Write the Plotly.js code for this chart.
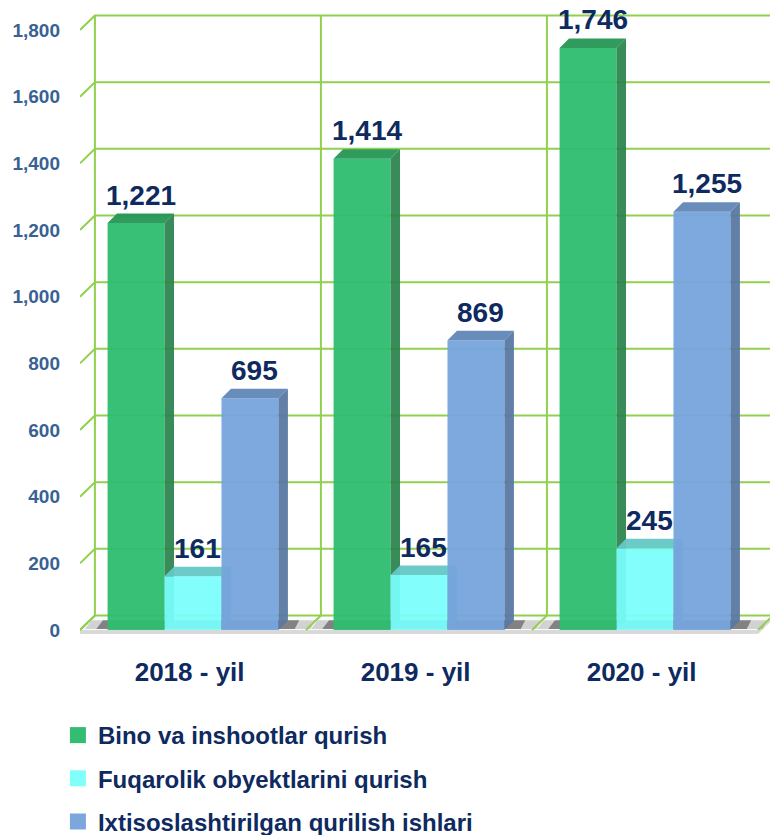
<!DOCTYPE html>
<html>
<head>
<meta charset="utf-8">
<script src="https://cdn.plot.ly/plotly-3.0.1.min.js"></script>
<style>html,body{margin:0;padding:0;background:#fff;}#chart{width:770px;height:835px;}</style>
</head>
<body>
<div id="chart"></div>
<script>
// ---- data ----
const categories = ['2018 - yil', '2019 - yil', '2020 - yil'];
const seriesNames = ['Bino va inshootlar qurish', 'Fuqarolik obyektlarini qurish', 'Ixtisoslashtirilgan qurilish ishlari'];
const bino = [1221, 1414, 1746];
const fuqarolik = [161, 165, 245];
const ixtisos = [695, 869, 1255];
const yTicks = [0, 200, 400, 600, 800, 1000, 1200, 1400, 1600, 1800];

// ---- style ----
const seriesValues = [bino, fuqarolik, ixtisos];
const faceColors = [
  {front: 'rgba(46,189,112,0.95)', side: 'rgba(40,130,76,0.92)', top: 'rgba(38,150,84,0.95)', legend: '#33bd73'},
  {front: 'rgba(120,255,252,0.93)', side: 'rgba(90,190,190,0.92)', top: 'rgba(100,200,198,0.95)', legend: '#80fffb'},
  {front: 'rgba(118,164,220,0.95)', side: 'rgba(88,120,162,0.95)', top: 'rgba(100,137,184,0.97)', legend: '#7ba7dc'}
];
const BW = 0.252, DX = 0.042, DY = 28.5;     // bar width, bar depth offsets
const WDX = 0.066, WDY = 43.5;                // wall depth offsets
const SLAB = 12;                              // floor thickness
const GRID = '#92d050';
const NAVY = '#0e2a5f';
const FONT = 'Liberation Sans, Arial, sans-serif';
const XL = -0.5, XR = categories.length - 0.5;

const traces = [];

// floor slab (thickness) and top surface
traces.push({type: 'scatter', mode: 'none',
  x: [XL, XR, XR + WDX, XR + WDX, XR, XL, XL], y: [0, 0, WDY, WDY - SLAB, -SLAB, -SLAB, 0],
  fill: 'toself', fillcolor: '#d9d9d9', showlegend: false, hoverinfo: 'skip'});
traces.push({type: 'scatter', mode: 'none',
  x: [XL, XR, XR + WDX, XL + WDX, XL], y: [0, 0, WDY, WDY, 0],
  fill: 'toself', fillcolor: '#fbfbfb', showlegend: false, hoverinfo: 'skip'});

// floor shadows under each group (two layers for a soft edge)
[[0.12, 0.20, 'rgba(0,0,0,0.16)'], [0.07, 0.06, 'rgba(20,20,20,0.42)']].forEach(([padL, padR, col]) => {
  const shx = [], shy = [];
  categories.forEach((c, i) => {
    const a = i - 1.5 * BW - padL, b = i + 1.5 * BW + DX + padR * 0.5;
    shx.push(a + 0.02, b, b + 0.02, a + 0.05, a + 0.02, null);
    shy.push(3, 3, WDY - 14, WDY - 14, 3, null);
  });
  traces.push({type: 'scatter', mode: 'none', x: shx, y: shy, fill: 'toself',
    fillcolor: col, showlegend: false, hoverinfo: 'skip'});
});

// back wall + floor grid
const gx = [], gy = [];
yTicks.forEach(t => {
  gx.push(XL, XL + WDX, 3.2, null);
  gy.push(t, t + WDY, t + WDY, null);
});
for (let k = 0; k <= categories.length; k++) {
  gx.push(k - 0.5, k - 0.5 + WDX, k - 0.5 + WDX, null);
  gy.push(0, WDY, yTicks[yTicks.length - 1] + WDY, null);
}
traces.push({type: 'scatter', mode: 'lines', x: gx, y: gy, line: {color: GRID, width: 2},
  showlegend: false, hoverinfo: 'skip'});

// bars (front, side, top faces)
const annotations = [];
seriesValues.forEach((vals, s) => {
  const F = {x: [], y: []}, S = {x: [], y: []}, T = {x: [], y: []};
  vals.forEach((v, i) => {
    const x0 = i - 1.5 * BW + s * BW, x1 = x0 + BW;
    F.x.push(x0, x1, x1, x0, x0, null); F.y.push(0, 0, v, v, 0, null);
    S.x.push(x1, x1 + DX, x1 + DX, x1, x1, null); S.y.push(0, DY, v + DY, v, 0, null);
    T.x.push(x0, x1, x1 + DX, x0 + DX, x0, null); T.y.push(v, v, v + DY, v + DY, v, null);
    annotations.push({x: (x0 + x1 + DX) / 2, y: v + DY, xref: 'x', yref: 'y',
      text: v.toLocaleString('en-US'), showarrow: false, yanchor: 'bottom', yshift: 1,
      font: {family: FONT, size: 28, color: NAVY, weight: 'bold'}});
  });
  [[F, 'front'], [S, 'side'], [T, 'top']].forEach(([p, k]) => {
    traces.push({type: 'scatter', mode: 'none', x: p.x, y: p.y, fill: 'toself',
      fillcolor: faceColors[s][k], showlegend: false, hoverinfo: 'skip'});
  });
});

// legend entries
seriesNames.forEach((n, s) => {
  traces.push({type: 'scatter', mode: 'markers', x: [null], y: [null], name: n,
    marker: {symbol: 'square', size: 16, color: faceColors[s].legend}, legendgroup: 'g' + s});
});

const layout = {
  width: 770, height: 835,
  margin: {l: 80, r: 0, t: 5, b: 195},
  paper_bgcolor: '#ffffff', plot_bgcolor: 'rgba(0,0,0,0)',
  showlegend: true,
  legend: {x: -0.032, xref: 'paper', y: 1 - 713 / 835, yref: 'container', xanchor: 'left', yanchor: 'top',
    traceorder: 'grouped', tracegroupgap: 9, itemwidth: 30, bgcolor: 'rgba(0,0,0,0)',
    font: {family: FONT, size: 24, color: NAVY, weight: 'bold'}},
  xaxis: {range: [XL, XL + 690 / 226], showgrid: false, zeroline: false, showline: false,
    tickmode: 'array', tickvals: categories.map((c, i) => i - 0.015), ticktext: categories, ticks: '',
    ticklabelstandoff: 14, automargin: false,
    tickfont: {family: FONT, size: 26, color: NAVY, weight: 'bold'},
    fixedrange: true},
  yaxis: {range: [-30, 1875], showgrid: false, zeroline: false, showline: false,
    tickmode: 'array', tickvals: yTicks, tickformat: ',', ticks: '', ticklabelstandoff: 19, automargin: false,
    tickfont: {family: FONT, size: 19, color: '#386194', weight: 'bold'},
    fixedrange: true},
  annotations: annotations
};

Plotly.newPlot('chart', traces, layout, {displayModeBar: false, staticPlot: true});
</script>
</body>
</html>
